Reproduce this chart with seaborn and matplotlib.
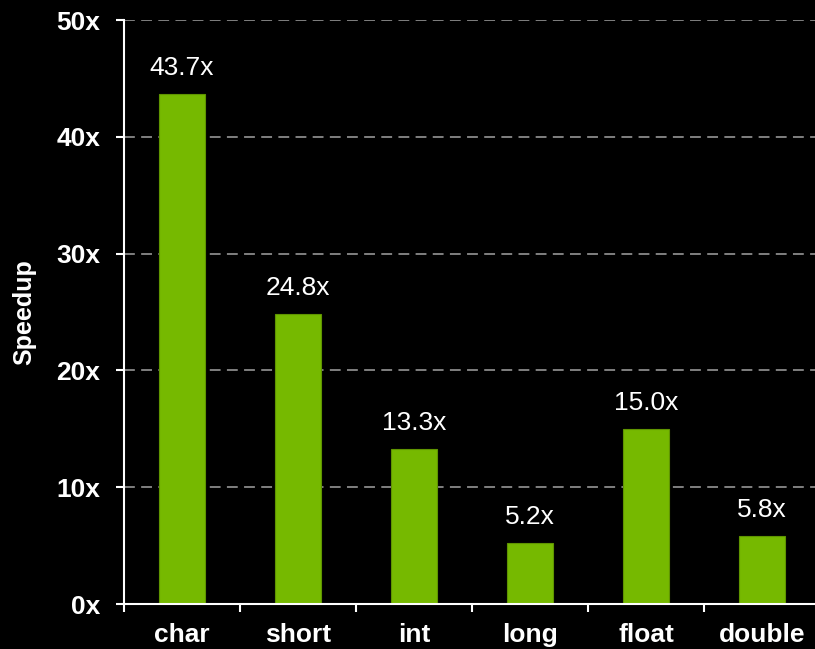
import matplotlib
matplotlib.use("Agg")
import matplotlib.pyplot as plt
import seaborn as sns
from matplotlib.ticker import FixedLocator

categories = ["char", "short", "int", "long", "float", "double"]
speedup = [43.7, 24.8, 13.3, 5.2, 15.0, 5.8]
yticks = [0, 10, 20, 30, 40, 50]
ytick_labels = ["0x", "10x", "20x", "30x", "40x", "50x"]

sns.set_style("dark")
plt.rcParams["font.family"] = ["Liberation Sans", "DejaVu Sans"]

green = "#76B900"

fig = plt.figure(figsize=(8.15, 6.49), dpi=100, facecolor="black")
ax = fig.add_axes([124 / 815, 45 / 649, 696 / 815, 584 / 649])
ax.set_facecolor("black")

sns.barplot(x=categories, y=speedup, color=green, width=0.4,
            edgecolor="#5f9400", linewidth=0.8, saturation=1, ax=ax, zorder=3)

# value labels above the bars
for i, v in enumerate(speedup):
    ax.annotate("%.1fx" % v, (i, v), xytext=(0, 10), textcoords="offset points",
                ha="center", va="bottom", color="white", fontsize=19)

ax.set_xlim(-0.5, 5.5)
ax.set_ylim(0, 50)
ax.set_yticks(yticks)
ax.set_yticklabels(ytick_labels)
ax.yaxis.grid(True, color="#8a8a8a", linestyle=(0, (6, 3.5)), linewidth=1.3, zorder=0)
ax.xaxis.grid(False)

ax.xaxis.set_minor_locator(FixedLocator([i - 0.5 for i in range(len(categories) + 1)]))
ax.tick_params(axis="x", which="major", length=0, pad=14, labelsize=19, colors="white")
ax.tick_params(axis="x", which="minor", bottom=True, length=6, width=1.5,
               color="white", direction="out")
ax.tick_params(axis="y", length=6, width=1.5, color="white", pad=11, labelsize=19,
               labelcolor="white", left=True)
for lab in ax.get_xticklabels() + ax.get_yticklabels():
    lab.set_fontweight("bold")

for s in ["top", "right"]:
    ax.spines[s].set_visible(False)
for s in ["left", "bottom"]:
    ax.spines[s].set_visible(True)
    ax.spines[s].set_color("white")
    ax.spines[s].set_linewidth(1.5)
    ax.spines[s].set_zorder(4)

ax.set_xlabel("")
ax.set_ylabel("Speedup", color="white", fontsize=18, fontweight="bold")
ax.yaxis.set_label_coords(-0.126, 0.5)

fig.savefig("out.png", dpi=100, facecolor="black")
